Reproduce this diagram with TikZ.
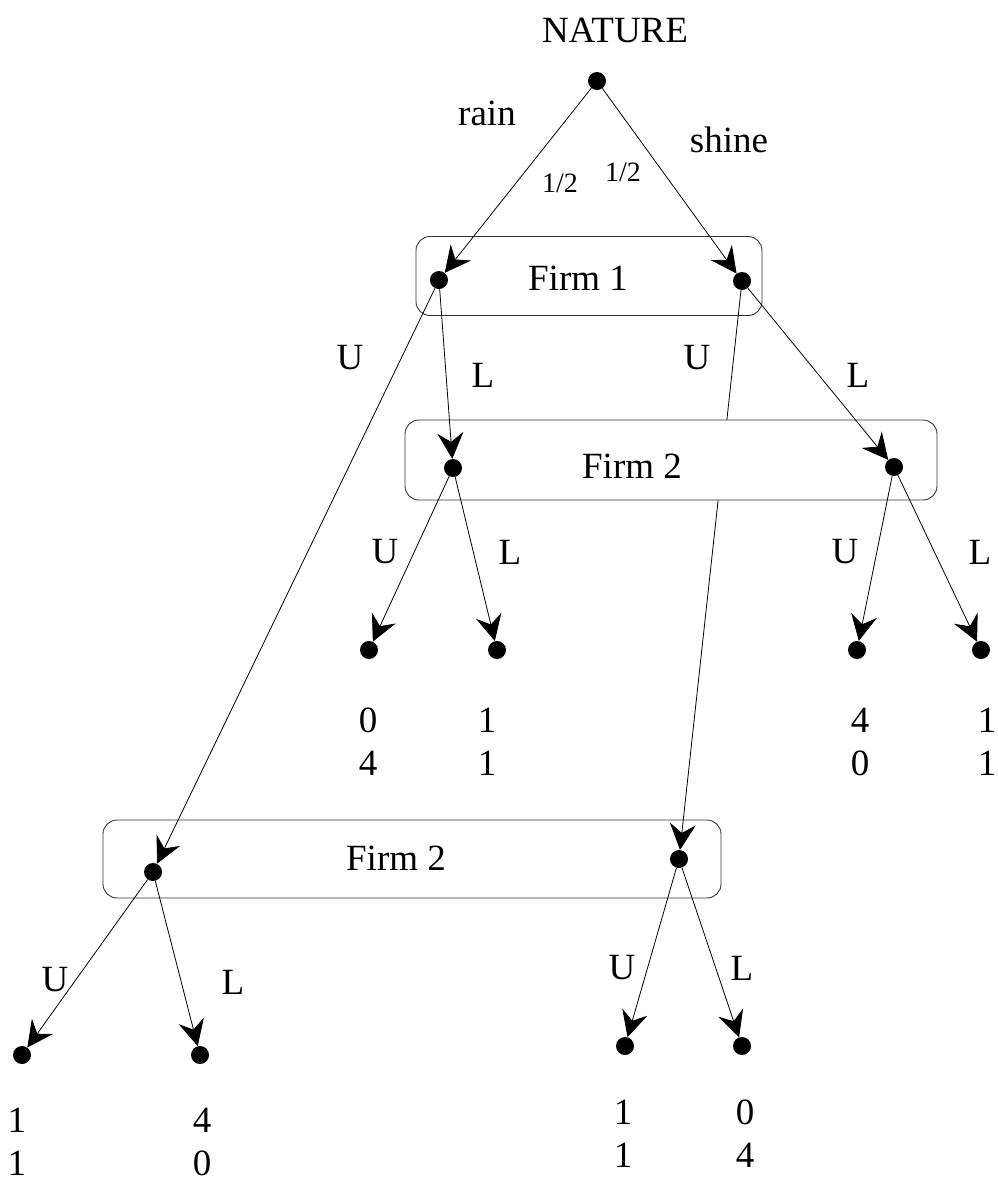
\documentclass[tikz,border=0pt]{standalone}
\usepackage{fontspec}
\setmainfont{Liberation Serif}
\usetikzlibrary{positioning, arrows.meta}

\begin{document}
\begin{tikzpicture}[x=1pt, y=-1pt,
  dot/.style={circle, fill=black, inner sep=0pt, minimum size=18pt},
  move/.style={-{Stealth[length=26pt, width=26pt, inset=9pt]}, line width=0.8pt},
  infoset/.style={draw=black!80, line width=0.9pt, rounded corners=14pt},
  lab/.style={font=\fontsize{37}{44}\selectfont, inner sep=0pt},
  prob/.style={font=\fontsize{28}{34}\selectfont, inner sep=0pt},
]
\useasboundingbox (0,0) rectangle (997,1184);

% nature
\node[lab] (naturelab) at (615,30) {NATURE};
\node[dot] (nat) at (597,81) {};

% firm 1 information set
\node[infoset, minimum width=346pt, minimum height=79pt] (firm1) at (589,276) {};
\node[lab] (firm1lab) at (578,278) {Firm 1};
\node[dot] (rain) at (439,280) {};
\node[dot] (shine) at (742,281) {};

% lower firm 2 information set
\node[infoset, minimum width=618pt, minimum height=78pt] (firm2b) at (412,859) {};
\node[lab] (firm2blab) at (396,858) {Firm 2};
\node[dot] (rU) at (153,872) {};
\node[dot] (sU) at (679,859) {};

% this move runs behind the upper box
\draw[move] (shine) -- (sU);

% upper firm 2 information set
\node[infoset, fill=white, minimum width=532pt, minimum height=80pt] (firm2a) at (671,460) {};
\node[lab] (firm2alab) at (632,466) {Firm 2};
\node[dot] (rL) at (453,468) {};
\node[dot] (sL) at (894,467) {};

% end points
\node[dot] (rLU) at (369,650) {};
\node[dot] (rLL) at (497,650) {};
\node[dot] (sLU) at (857,650) {};
\node[dot] (sLL) at (981,650) {};
\node[dot] (rUU) at (22,1055) {};
\node[dot] (rUL) at (200,1055) {};
\node[dot] (sUU) at (625,1046) {};
\node[dot] (sUL) at (742,1046) {};

% moves
\draw[move] (nat) -- (rain);
\draw[move] (nat) -- (shine);
\draw[move] (rain) -- (rU);
\draw[move] (rain) -- (rL);
\draw[move] (shine) -- (sL);
\draw[move] (rL) -- (rLU);
\draw[move] (rL) -- (rLL);
\draw[move] (sL) -- (sLU);
\draw[move] (sL) -- (sLL);
\draw[move] (rU) -- (rUU);
\draw[move] (rU) -- (rUL);
\draw[move] (sU) -- (sUU);
\draw[move] (sU) -- (sUL);

% move labels
\node[lab] (rainlab) at (487,113) {rain};
\node[lab] (shinelab) at (729,140) {shine};
\node[prob] (rainp) at (560,183) {1/2};
\node[prob] (shinep) at (623,172) {1/2};
\node[lab] (lab1) at (350,358) {U};
\node[lab] (lab2) at (483,375) {L};
\node[lab] (lab3) at (697,358) {U};
\node[lab] (lab4) at (858,375) {L};
\node[lab] (lab5) at (385,552) {U};
\node[lab] (lab6) at (510,552) {L};
\node[lab] (lab7) at (845,552) {U};
\node[lab] (lab8) at (980,552) {L};
\node[lab] (lab9) at (55,980) {U};
\node[lab] (lab10) at (233,982) {L};
\node[lab] (lab11) at (622,968) {U};
\node[lab] (lab12) at (742,968) {L};

% payoffs
\foreach \px/\py/\ua/\ub/\n in {368/720/0/4/1, 487/720/1/1/2, 860/720/4/0/3, 987/720/1/1/4,
    17/1120/1/1/5, 202/1120/4/0/6, 623/1112/1/1/7, 745/1112/0/4/8} {
  \node[lab] (pay\n a) at (\px,\py) {\ua};
  \node[lab] (pay\n b) at (\px,\py+43) {\ub};
}
\end{tikzpicture}
\end{document}
